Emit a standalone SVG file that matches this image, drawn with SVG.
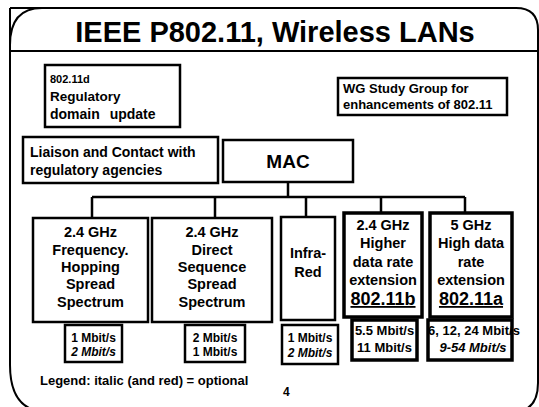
<svg xmlns="http://www.w3.org/2000/svg" width="539" height="407" viewBox="0 0 539 407">
<style>
.frame{fill:none;stroke:#000;stroke-width:2}
.box{fill:#fff;stroke:#000;stroke-width:2.5}
.thick{stroke-width:3.5}
.t{font-family:"Liberation Sans",Arial,Helvetica,sans-serif;font-weight:bold;fill:#000}
.c{text-anchor:middle}
.s14{font-size:14.5px}
.s13{font-size:13px}
.s12{font-size:12px}
.i{font-style:italic}
.u{text-decoration:underline;font-size:18px}
.conn{fill:none;stroke:#000;stroke-width:2.5}
</style>
<rect width="539" height="407" fill="#fff"/>
<g id="frame">
<path class="frame" d="M10,8 H516 Q538,8 538,30 V383 Q538,412 512,412"/>
<path class="frame" d="M10,8 V365 Q10,412 48,412"/>
<path class="frame" d="M10,45 Q10,8 42,8"/>
<path class="frame" d="M10,51 H538"/>
<text class="t c" x="275" y="42" font-size="29">IEEE P802.11, Wireless LANs</text>
</g>
<g id="connectors">
<path class="conn" d="M288,182 V197 M92,197 H465 M92,197 V218 M215,197 V218 M306,197 V217 M381,197 V213 M465,197 V213"/>
</g>
<g id="n-80211d">
<rect class="box" x="45" y="65" width="135" height="62"/>
<text class="t" x="50" y="83" font-size="11">802.11d</text>
<text class="t" x="50" y="101" font-size="13.5">Regulatory</text>
<text class="t" x="50" y="119" font-size="14" word-spacing="6">domain update</text>
</g>
<g id="n-wg">
<rect class="box" x="338" y="78" width="169" height="37"/>
<text class="t s13" x="343" y="93">WG Study Group for</text>
<text class="t s13" x="343" y="109">enhancements of 802.11</text>
</g>
<g id="n-liaison">
<rect class="box" x="23" y="137" width="195" height="46"/>
<text class="t" x="30" y="157" font-size="14">Liaison and Contact with</text>
<text class="t" x="30" y="175" font-size="14">regulatory agencies</text>
</g>
<g id="n-mac">
<rect class="box" x="223" y="140" width="130" height="42"/>
<text class="t c" x="288" y="168" font-size="19">MAC</text>
</g>
<g id="n-fhss">
<rect class="box" x="33" y="218" width="115" height="104"/>
<text class="t c s14" x="90.5" y="237">2.4 GHz</text>
<text class="t c s14" x="90.5" y="255">Frequency.</text>
<text class="t c s14" x="90.5" y="272">Hopping</text>
<text class="t c s14" x="90.5" y="289">Spread</text>
<text class="t c s14" x="90.5" y="307">Spectrum</text>
</g>
<g id="n-dsss">
<rect class="box" x="152" y="218" width="120" height="104"/>
<text class="t c s14" x="212" y="237">2.4 GHz</text>
<text class="t c s14" x="212" y="255">Direct</text>
<text class="t c s14" x="212" y="272">Sequence</text>
<text class="t c s14" x="212" y="289">Spread</text>
<text class="t c s14" x="212" y="307">Spectrum</text>
</g>
<g id="n-ir">
<rect class="box" x="281" y="217" width="54" height="103"/>
<text class="t c s14" x="308" y="258">Infra-</text>
<text class="t c s14" x="308" y="277">Red</text>
</g>
<g id="n-11b">
<rect class="box thick" x="344" y="213" width="78" height="104"/>
<text class="t c s14" x="383" y="230">2.4 GHz</text>
<text class="t c s14" x="383" y="248">Higher</text>
<text class="t c s14" x="383" y="267">data rate</text>
<text class="t c s14" x="383" y="285">extension</text>
<text class="t c u" x="383" y="305">802.11b</text>
</g>
<g id="n-11a">
<rect class="box thick" x="430" y="213" width="82" height="104"/>
<text class="t c s14" x="471" y="230">5 GHz</text>
<text class="t c s14" x="471" y="248">High data</text>
<text class="t c s14" x="471" y="267">rate</text>
<text class="t c s14" x="471" y="285">extension</text>
<text class="t c u" x="471" y="305">802.11a</text>
</g>
<g id="r-fhss">
<rect class="box" x="65" y="325" width="57" height="37"/>
<text class="t c s12" x="93.5" y="342">1 Mbit/s</text>
<text class="t c s12 i" x="93.5" y="356">2 Mbit/s</text>
</g>
<g id="r-dsss">
<rect class="box" x="185" y="325" width="60" height="37"/>
<text class="t c s12" x="215" y="342">2 Mbit/s</text>
<text class="t c s12" x="215" y="356">1 Mbit/s</text>
</g>
<g id="r-ir">
<rect class="box" x="282" y="325" width="56" height="39"/>
<text class="t c s12" x="310" y="342">1 Mbit/s</text>
<text class="t c s12 i" x="310" y="357">2 Mbit/s</text>
</g>
<g id="r-11b">
<rect class="box thick" x="352" y="320" width="65" height="40"/>
<text class="t c s13" x="384.5" y="335">5.5 Mbit/s</text>
<text class="t c s13" x="384.5" y="352">11 Mbit/s</text>
</g>
<g id="r-11a">
<rect class="box thick" x="428" y="320" width="84" height="40"/>
<text class="t c s13" x="474" y="335">6, 12, 24 Mbit/s</text>
<text class="t c s13 i" x="473" y="352">9-54 Mbit/s</text>
</g>
<g id="legend">
<text class="t s13" x="40" y="385">Legend: italic (and red) = optional</text>
<text class="t" x="283" y="396" font-size="12">4</text>
</g>
</svg>
